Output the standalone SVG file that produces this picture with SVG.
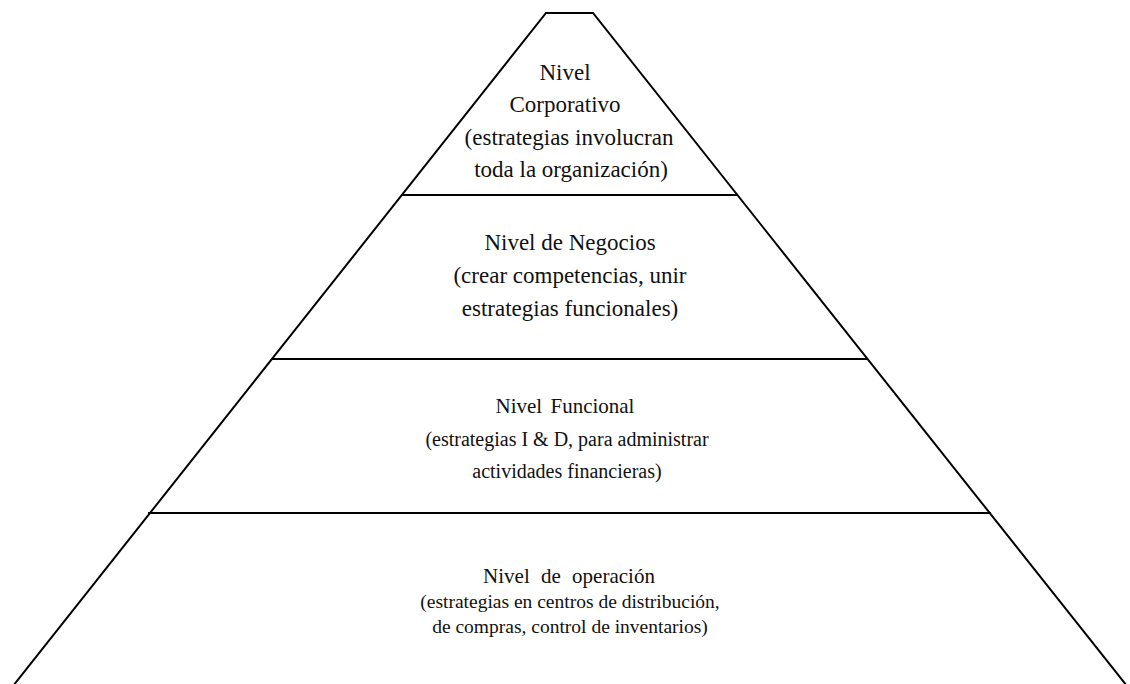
<svg xmlns="http://www.w3.org/2000/svg" width="1130" height="684" viewBox="0 0 1130 684">
<style>
.edge{fill:none;stroke:#000;stroke-width:2}
.t{font-family:"Liberation Serif","Times New Roman",serif;fill:#111;text-anchor:middle}
.big{font-size:23px}
.mid{font-size:20px}
.small{font-size:19.5px}
</style>
<rect width="1130" height="684" fill="#fff"/>
<g id="connectors">
<polyline class="edge" points="13,686 546,13 593,13 1127,686"/>
<line class="edge" x1="401" y1="195" x2="738" y2="195"/>
<line class="edge" x1="271" y1="359" x2="868" y2="359"/>
<line class="edge" x1="148" y1="513" x2="991" y2="513"/>
</g>
<g id="nivel-corporativo">
<text class="t big" x="565" y="80">Nivel</text>
<text class="t big" x="565" y="112">Corporativo</text>
<text class="t big" x="569" y="145">(estrategias involucran</text>
<text class="t big" x="571" y="177">toda la organización)</text>
</g>
<g id="nivel-negocios">
<text class="t big" x="570" y="250">Nivel de Negocios</text>
<text class="t big" x="570" y="283">(crear competencias, unir</text>
<text class="t big" x="570" y="316">estrategias funcionales)</text>
</g>
<g id="nivel-funcional">
<text class="t" style="font-size:21px;word-spacing:3px" x="565" y="413">Nivel Funcional</text>
<text class="t mid" x="567" y="446">(estrategias I &amp; D, para administrar</text>
<text class="t mid" x="567" y="478">actividades financieras)</text>
</g>
<g id="nivel-operacion">
<text class="t" style="font-size:21px;word-spacing:6px" x="569" y="583">Nivel de operación</text>
<text class="t small" x="570" y="608">(estrategias en centros de distribución,</text>
<text class="t small" x="570" y="633">de compras, control de inventarios)</text>
</g>
</svg>
